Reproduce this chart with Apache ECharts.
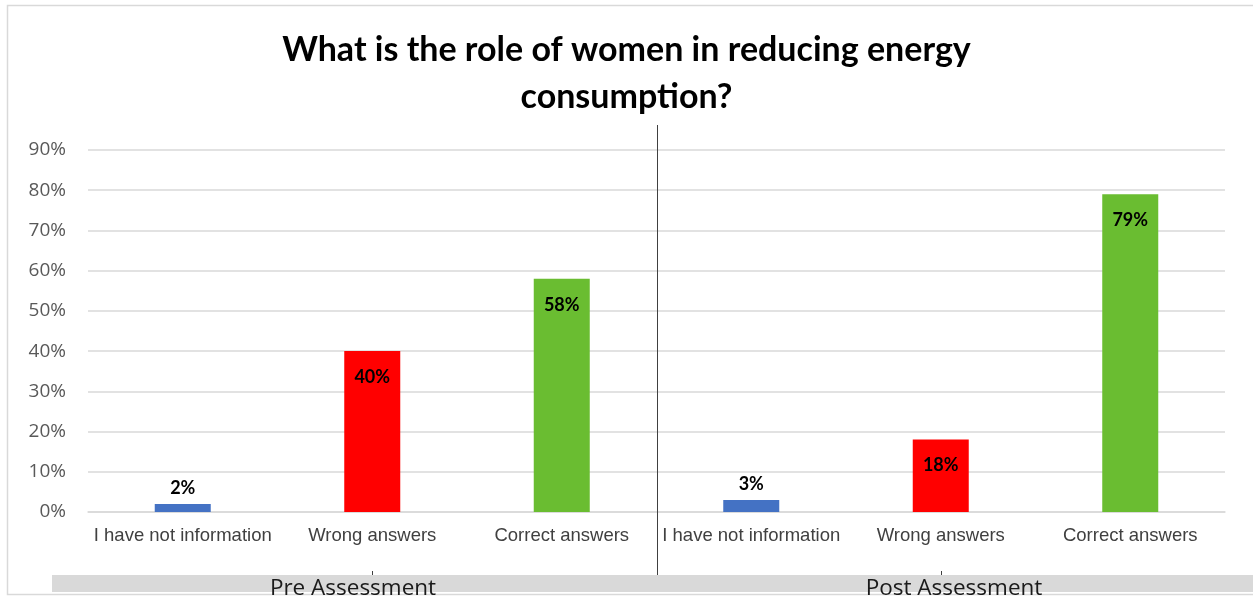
<!DOCTYPE html>
<html>
<head>
<meta charset="utf-8">
<style>
  html, body { margin: 0; padding: 0; background: #ffffff; overflow: hidden; }
  #chart { width: 1253px; height: 597px; }
</style>
<script src="https://cdn.jsdelivr.net/npm/echarts@6/dist/echarts.min.js"></script>
</head>
<body>
<div id="chart"></div>
<script>
// Answer categories, repeated for each assessment round
const answerTypes = ['I have not information', 'Wrong answers', 'Correct answers'];
const groups = ['Pre Assessment', 'Post Assessment'];

// Share of respondents (%)
const preValues = [2, 40, 58];
const postValues = [3, 18, 79];

const barColors = ['#4472c4', '#ff0000', '#6abd31'];

// Y axis ticks
const yMin = 0;
const yMax = 90;
const yStep = 10;

const categories = answerTypes.concat(answerTypes);
const values = preValues.concat(postValues);

const chart = echarts.init(document.getElementById('chart'));

const barData = values.map(function (v, i) {
  const small = v < 10;
  return {
    value: v,
    itemStyle: { color: barColors[i % 3] },
    label: small
      ? { position: 'top', distance: 7 }
      : { position: 'insideTop', distance: 17 }
  };
});

chart.setOption({
  animation: false,
  title: {
    text: 'What is the role of women in reducing energy\nconsumption?',
    left: 'center',
    top: 22,
    textStyle: {
      fontFamily: 'Lato',
      fontWeight: 'bold',
      fontSize: 34,
      lineHeight: 47,
      color: '#000000'
    }
  },
  grid: { left: 88, right: 28, top: 150, bottom: 85 },
  xAxis: {
    type: 'category',
    data: categories,
    axisLine: { show: true, lineStyle: { color: '#d9d9d9', width: 1.5 } },
    axisTick: { show: false },
    axisLabel: {
      interval: 0,
      margin: 14,
      color: '#404040',
      fontFamily: 'Liberation Sans',
      fontSize: 18.5
    }
  },
  yAxis: {
    type: 'value',
    min: yMin,
    max: yMax,
    interval: yStep,
    axisLine: { show: false },
    axisTick: { show: false },
    axisLabel: {
      formatter: '{value}%',
      margin: 22,
      color: '#595959',
      fontFamily: 'Open Sans',
      fontSize: 19
    },
    splitLine: { lineStyle: { color: '#d9d9d9', width: 1.5 } }
  },
  series: [{
    type: 'bar',
    data: barData,
    barWidth: 56,
    label: {
      show: true,
      formatter: '{c}%',
      color: '#000000',
      fontFamily: 'Lato',
      fontWeight: 'bold',
      fontSize: 18
    }
  }]
});

// Group band, group names and the divider between the two assessment rounds
function drawGroups() {
  const px = function (i) { return chart.convertToPixel({ xAxisIndex: 0 }, i); };
  const dividerX = Math.round((px(2) + px(3)) / 2) + 0.5;
  const preX = px(1);
  const postX = px(4);
  const W = chart.getWidth();

  chart.setOption({
    graphic: [
      {
        type: 'rect', silent: true, z: -10,
        shape: { x: 7.5, y: 5.5, width: W, height: 589 },
        style: { fill: null, stroke: '#d9d9d9', lineWidth: 1.5 }
      },
      {
        type: 'rect', silent: true, z: 1,
        shape: { x: 52, y: 575, width: W - 52, height: 17 },
        style: { fill: '#d9d9d9' }
      },
      {
        type: 'line', silent: true, z: 2,
        shape: { x1: dividerX, y1: 125, x2: dividerX, y2: 575 },
        style: { stroke: '#404040', lineWidth: 1 }
      },
      {
        type: 'line', silent: true, z: 2,
        shape: { x1: Math.round(preX) + 0.5, y1: 571, x2: Math.round(preX) + 0.5, y2: 575 },
        style: { stroke: '#404040', lineWidth: 1 }
      },
      {
        type: 'line', silent: true, z: 2,
        shape: { x1: Math.round(postX) + 0.5, y1: 571, x2: Math.round(postX) + 0.5, y2: 575 },
        style: { stroke: '#404040', lineWidth: 1 }
      },
      {
        type: 'text', silent: true, z: 3,
        x: 353, y: 589,
        style: {
          text: groups[0], align: 'center', verticalAlign: 'middle',
          fontFamily: 'Open Sans', fontSize: 22.5, fill: '#1a1a1a'
        }
      },
      {
        type: 'text', silent: true, z: 3,
        x: 954, y: 589,
        style: {
          text: groups[1], align: 'center', verticalAlign: 'middle',
          fontFamily: 'Open Sans', fontSize: 22.5, fill: '#1a1a1a'
        }
      }
    ]
  });
}

drawGroups();
</script>
</body>
</html>
